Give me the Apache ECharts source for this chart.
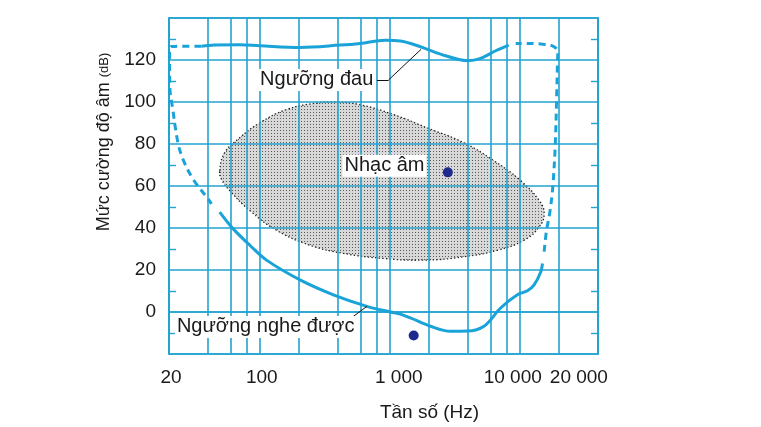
<!DOCTYPE html>
<html>
<head>
<meta charset="utf-8">
<script src="https://cdn.jsdelivr.net/npm/echarts@6/dist/echarts.min.js"></script>
<style>
html,body{margin:0;padding:0;background:#fff;}
#c{width:761px;height:427px;}
</style>
</head>
<body>
<div id="c"></div>
<script>
// ---- data ----
const gridFreqs = [20, 40, 60, 80, 100, 200, 400, 600, 800, 1000, 2000, 4000, 6000, 8000, 10000, 20000, 40000];
const xTickValues = [20, 100, 1000, 10000, 20000];
const xTickTexts = ['20', '100', '1 000', '10 000', '20 000'];

// Ngưỡng đau (solid part)
const painF  = [35.5, 44.9, 70, 100, 204, 415, 592, 923, 1205, 1721, 2455, 3965, 5000, 6530, 8225];
const painDb = [126.6, 127.1, 127.3, 126.8, 126.0, 127.1, 127.9, 129.4, 129.1, 126.3, 122.8, 119.7, 120.8, 124.4, 127.1];

// Ngưỡng nghe được (solid part)
const hearF  = [49.1, 62.2, 83.7, 112.6, 203.7, 368, 667, 1009, 1206, 1440, 2056, 2933, 3945, 5300, 7125, 9590, 11460, 12890, 14520, 14960];
const hearDb = [47.6, 39.7, 31.8, 24.7, 15.3, 8.2, 2.7, 0.0, -1.0, -2.8, -6.8, -9.2, -9.1, -6.8, 1.9, 8.2, 10.1, 12.9, 19.2, 23.1];

// dashed connections
const leftDashF  = [35.5, 26.4, 20.9, 20.15, 20.2, 20.3, 21.4, 23.4, 25.6, 30.6, 39.9, 42.4];
const leftDashDb = [126.6, 126.6, 126.4, 124.7, 123.3, 107.2, 96.4, 80.8, 72.8, 63.3, 53.9, 51.5];
const rightDashF  = [15410, 16020, 17050, 17980, 18790, 19200, 19540, 19650, 17990, 14530, 10190, 9310];
const rightDashDb = [28.7, 38.3, 47.6, 60.0, 80.8, 101, 120, 123.9, 126.6, 127.6, 127.9, 127.8];

// Nhạc âm region outline
const blobF  = [49.1, 53.7, 70.1, 100, 160.8, 274, 391, 592, 1070, 1938, 3715, 6330, 10180, 14090, 15400, 14090, 10800, 6725, 3715, 1824, 896, 440, 243, 134.6, 83.7, 58.7, 50.6];
const blobDb = [67.2, 75.9, 83.0, 90.1, 96.4, 99.5, 100.0, 98.7, 94.0, 87.7, 80.6, 72.0, 62.5, 53.1, 46.8, 40.5, 34.2, 29.4, 26.3, 24.7, 25.5, 27.9, 31.8, 38.9, 48.3, 57.8, 63.3];

// two dots
const dotF  = [2795, 1527];
const dotDb = [66.5, -11.2];

const pairs = (a, b) => a.map((v, i) => [v, b[i]]);

// ---- styles ----
const BLUE = '#22a3d0';
const CURVE = '#1aa3d8';
const FONT = "'Liberation Sans', Arial, Helvetica, sans-serif";

const pc = document.createElement('canvas');
pc.width = 3; pc.height = 3;
const pctx = pc.getContext('2d');
pctx.fillStyle = '#d8d8d8'; pctx.fillRect(0, 0, 3, 3);
pctx.fillStyle = '#5a5a5a'; pctx.fillRect(1, 1, 1, 1);

const chart = echarts.init(document.getElementById('c'), null, {renderer: 'canvas'});

const xRich = {
  a: {fontSize: 19, fontFamily: FONT, color: '#1a1a1a', padding: [0, 0, 0, 4]},
  b: {fontSize: 19, fontFamily: FONT, color: '#1a1a1a', padding: [0, 0, 0, 18]},
  c: {fontSize: 19, fontFamily: FONT, color: '#1a1a1a', padding: [0, 14, 0, 0]},
  d: {fontSize: 19, fontFamily: FONT, color: '#1a1a1a', padding: [0, 0, 0, 40]}
};
const xStyleKey = ['a', 'a', 'b', 'c', 'd'];

const option = {
  animation: false,
  backgroundColor: '#fff',
  grid: {left: 169, right: 163, top: 18, bottom: 73, show: true, borderColor: BLUE, borderWidth: 1.6, backgroundColor: 'transparent'},
  xAxis: {
    type: 'log', logBase: 10, min: 20, max: 40000,
    axisLine: {show: true, lineStyle: {color: BLUE, width: 1.6}},
    axisTick: {show: false, customValues: gridFreqs},
    splitLine: {show: true, lineStyle: {color: BLUE, width: 1.6}},
    minorSplitLine: {show: false},
    axisLabel: {
      customValues: xTickValues,
      margin: 14,
      formatter: function (v) {
        const i = xTickValues.indexOf(v);
        if (i < 0) return '';
        return '{' + xStyleKey[i] + '|' + xTickTexts[i] + '}';
      },
      rich: xRich,
      fontSize: 19, fontFamily: FONT, color: '#1a1a1a'
    },
    name: 'Tần số (Hz)',
    nameLocation: 'middle',
    nameGap: 49,
    nameTextStyle: {fontSize: 19, fontFamily: FONT, color: '#1a1a1a', padding: [0, 0, 0, 92]}
  },
  yAxis: [{
    type: 'value', min: -20, max: 140, interval: 20,
    axisLine: {show: true, lineStyle: {color: BLUE, width: 1.6}},
    axisTick: {show: false, inside: true},
    minorTick: {show: true, splitNumber: 2, length: 7, lineStyle: {color: BLUE, width: 1.4}},
    splitLine: {show: true, lineStyle: {color: BLUE, width: 1.6}},
    axisLabel: {
      margin: 13,
      fontSize: 19, fontFamily: FONT, color: '#1a1a1a',
      padding: [4, 0, 0, 0],
      formatter: v => (v < 0 || v > 120) ? '' : String(v)
    },
    name: 'Mức cường độ âm {s|(dB)}',
    nameLocation: 'middle',
    nameGap: 52,
    nameTextStyle: {
      fontSize: 18, fontFamily: FONT, color: '#1a1a1a', padding: [0, 0, 0, 88],
      rich: {s: {fontSize: 13, fontFamily: FONT, color: '#1a1a1a'}}
    }
  }, {
    type: 'value', min: -20, max: 140, interval: 20, position: 'right',
    axisLine: {show: true, lineStyle: {color: BLUE, width: 1.6}},
    axisTick: {show: false, inside: true},
    minorTick: {show: true, splitNumber: 2, length: 7, lineStyle: {color: BLUE, width: 1.4}},
    splitLine: {show: false},
    axisLabel: {show: false}
  }],
  series: [
    {
      type: 'custom',
      z: -1,
      silent: true,
      data: pairs(blobF, blobDb),
      encode: {x: 0, y: 1},
      renderItem: function (params, api) {
        if (params.dataIndex !== 0) return;
        const pts = blobF.map((f, i) => api.coord([f, blobDb[i]]));
        return {
          type: 'polygon',
          shape: {points: pts, smooth: 0.45},
          style: {fill: {image: pc, repeat: 'repeat'}, stroke: '#222', lineWidth: 1.3, lineDash: [1.4, 2.2]}
        };
      }
    },
    {
      type: 'line', data: pairs(painF, painDb), smooth: 0.35, symbol: 'none', z: 3,
      lineStyle: {color: CURVE, width: 3}
    },
    {
      type: 'line', data: pairs(hearF, hearDb), smooth: 0.35, symbol: 'none', z: 3,
      lineStyle: {color: CURVE, width: 3}
    },
    {
      type: 'line', data: pairs(leftDashF, leftDashDb), smooth: 0.35, symbol: 'none', z: 3,
      lineStyle: {color: CURVE, width: 3, type: [7, 5]}
    },
    {
      type: 'line', data: pairs(rightDashF, rightDashDb), smooth: 0.35, symbol: 'none', z: 3,
      lineStyle: {color: CURVE, width: 3, type: [7, 5]}
    },
    {
      type: 'scatter', data: pairs(dotF, dotDb), symbolSize: 10, z: 5,
      itemStyle: {color: '#1e2a8e', opacity: 1},
      markLine: {
        silent: true, symbol: 'none', animation: false,
        lineStyle: {color: '#111', width: 1, type: 'solid'},
        label: {show: false},
        data: [
          [{coord: [796, 110.5]}, {coord: [979, 110.5]}],
          [{coord: [979, 110.5]}, {coord: [1741, 125.1]}],
          [{coord: [467, -4.4]}, {coord: [667, 2.7]}]
        ]
      },
      markPoint: {
        silent: true, symbol: 'rect', symbolSize: 0,
        label: {
          show: true, position: 'inside', fontSize: 20, fontFamily: FONT, color: '#1a1a1a',
          backgroundColor: '#fff', padding: [1, 2, 1, 2]
        },
        data: [
          {coord: [274, 110.5], value: 'Ngưỡng đau', label: {formatter: 'Ngưỡng đau'}},
          {coord: [110.9, -7.1], value: 'Ngưỡng nghe được', label: {formatter: 'Ngưỡng nghe được'}},
          {coord: [910, 69.6], value: 'Nhạc âm', label: {formatter: 'Nhạc âm'}}
        ]
      }
    }
  ]
};
chart.setOption(option);
</script>
</body>
</html>
